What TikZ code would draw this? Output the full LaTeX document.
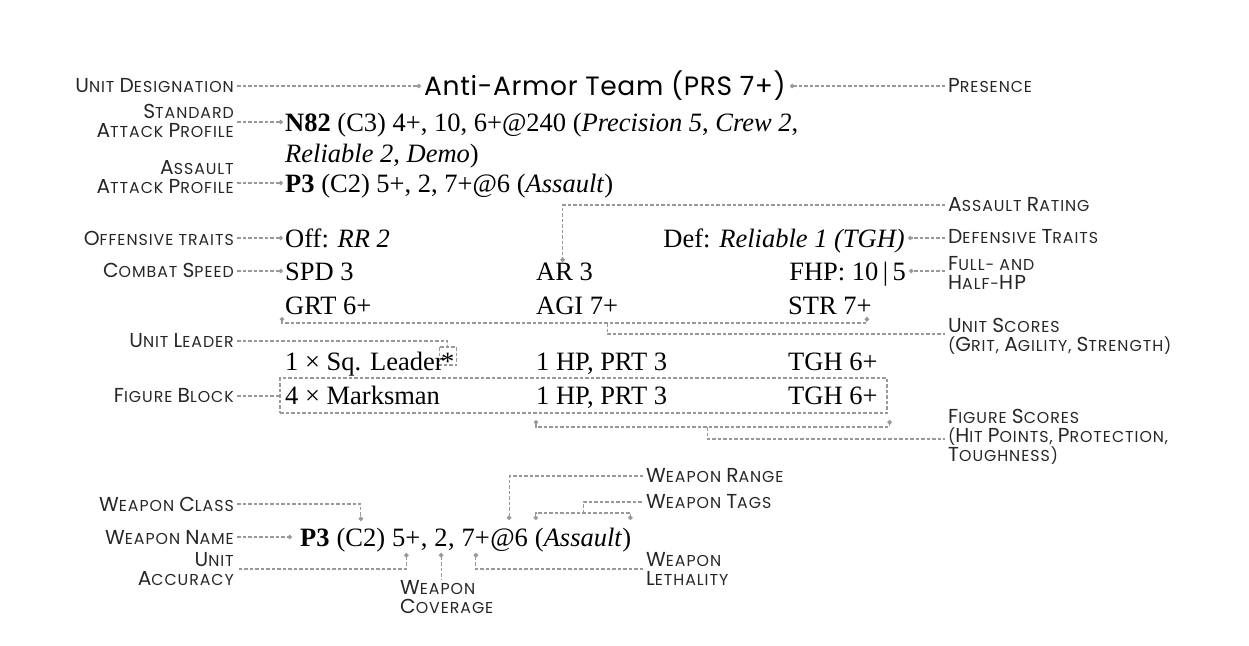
\documentclass[tikz,border=0pt]{standalone}
\usepackage{fontspec}
\setmainfont{Liberation Serif}
\newfontfamily\gothic[LetterSpace=6]{Poppins}
\newfontfamily\gothicT[LetterSpace=2.5]{Poppins}
\usetikzlibrary{arrows.meta,calc,fit}
\newcommand{\Bg}[1]{{\fontsize{20.2}{20.2}\selectfont #1}}
\tikzset{
  lab/.style={font=\gothic\fontsize{15.8}{19}\selectfont, inner ysep=0pt, inner xsep=3pt, text=black!85},
  labL/.style={lab, anchor=east, align=right},
  labR/.style={lab, anchor=west, align=left},
  dat/.style={font=\fontsize{26.5}{31}\selectfont, inner sep=0pt, anchor=base west},
  conn/.style={draw=black!40, dash pattern=on 3.5pt off 2pt, line width=1.1pt},
  dot/.style={-{Circle[length=4.5pt,width=4.5pt]}},
  tod/.style={{Circle[length=4.5pt,width=4.5pt]}-},
  dots/.style={{Circle[length=4.5pt,width=4.5pt]}-{Circle[length=4.5pt,width=4.5pt]}},
}
\begin{document}
\begin{tikzpicture}[x=1pt,y=-1pt]
\useasboundingbox (0,0) rectangle (1249,645);
% ---------- data ----------
\node[font=\gothicT\fontsize{26.5}{30}\selectfont, inner sep=0pt, anchor=base west] (title) at (424,95) {Anti-Armor Team (PRS 7+)};
\node[dat] (std) at (285,131) {\textbf{N82} (C3) 4+, 10, 6+@240 (\textit{Precision 5}, \textit{Crew 2},};
\node[dat] (stdb) at (285,162) {\textit{Reliable 2}, \textit{Demo})};
\node[dat] (asl) at (285,192) {\textbf{P3} (C2) 5+, 2, 7+@6 (\textit{Assault})};
\node[dat] (off) at (285,247) {Off: \textit{RR 2}};
\node[dat, anchor=base east] (def) at (905,247) {Def: \textit{Reliable 1 (TGH)}};
\node[dat] (spd) at (285,280) {SPD 3};
\node[dat] (ar) at (536,280) {AR 3};
\node[dat, anchor=base east] (fhp) at (906,280) {FHP: 10\,|\,5};
\node[dat] (grt) at (285,314) {GRT 6+};
\node[dat] (agi) at (536,314) {AGI 7+};
\node[dat] (str) at (788,314) {STR 7+};
\node[dat] (ldr) at (285,370) {1 × Sq. Leader};
\node[dat] (star) at ($(ldr.base east)+(-3,0)$) {*};
\node[dat] (hp1) at (536,370) {1 HP, PRT 3};
\node[dat] (tgh1) at (788,370) {TGH 6+};
\node[dat] (mk) at (285,404) {4 × Marksman};
\node[dat] (hp2) at (536,404) {1 HP, PRT 3};
\node[dat] (tgh2) at (788,404) {TGH 6+};
\coordinate (fbA) at (280,378);
\coordinate (fbB) at (887,413);
\node[fit=(fbA)(fbB), inner sep=0pt, conn] (fblock) {};
% weapon line
\node[dat] (wP) at (300,546) {\textbf{P3}};
\node[dat] (wC) at ($(wP.base east)+(6.6,0)$) {(C2)};
\node[dat] (wA) at ($(wC.base east)+(6.6,0)$) {5+};
\node[dat] (wA2) at (wA.base east) {,};
\node[dat] (wV) at ($(wA2.base east)+(6.6,0)$) {2};
\node[dat] (wV2) at (wV.base east) {,};
\node[dat] (wL) at ($(wV2.base east)+(6.6,0)$) {7+};
\node[dat] (wR) at (wL.base east) {@6};
\node[dat] (wT) at ($(wR.base east)+(6.6,0)$) {(\textit{Assault})};
% ---------- labels ----------
\node[labL] (ldesig) at (237,86) {\Bg{U}NIT \Bg{D}ESIGNATION};
\node[labL] (lstd) at (237,121) {\Bg{S}TANDARD\\\Bg{A}TTACK \Bg{P}ROFILE};
\node[labL] (lasl) at (237,177) {\Bg{A}SSAULT\\\Bg{A}TTACK \Bg{P}ROFILE};
\node[labL] (loff) at (237,238) {\Bg{O}FFENSIVE TRAITS};
\node[labL] (lspd) at (237,270) {\Bg{C}OMBAT \Bg{S}PEED};
\node[labL] (lleader) at (237,341) {\Bg{U}NIT \Bg{L}EADER};
\node[labL] (lblock) at (237,396) {\Bg{F}IGURE \Bg{B}LOCK};
\node[labL] (lclass) at (237,504) {\Bg{W}EAPON \Bg{C}LASS};
\node[labL] (lname) at (237,537) {\Bg{W}EAPON \Bg{N}AME};
\node[labL] (lacc) at (237,569) {\Bg{U}NIT\\\Bg{A}CCURACY};
\node[labR] (lpres) at (945,86) {\Bg{P}RESENCE};
\node[labR] (lar) at (945,205) {\Bg{A}SSAULT \Bg{R}ATING};
\node[labR] (ldef) at (945,237) {\Bg{D}EFENSIVE \Bg{T}RAITS};
\node[labR] (lfhp) at (945,273) {\Bg{F}ULL- AND\\\Bg{H}ALF-\Bg{HP}};
\node[labR] (lunit) at (945,336) {\Bg{U}NIT \Bg{S}CORES\\(\Bg{G}RIT, \Bg{A}GILITY, \Bg{S}TRENGTH)};
\node[labR] (lfig) at (945,437) {\Bg{F}IGURE \Bg{S}CORES\\(\Bg{H}IT \Bg{P}OINTS, \Bg{P}ROTECTION,\\\Bg{T}OUGHNESS)};
\node[labR] (lrange) at (643,476) {\Bg{W}EAPON \Bg{R}ANGE};
\node[labR] (ltags) at (643,502) {\Bg{W}EAPON \Bg{T}AGS};
\node[labR] (llet) at (643,569) {\Bg{W}EAPON\\\Bg{L}ETHALITY};
\node[lab, anchor=north west, align=left] (lcov) at (397,580) {\Bg{W}EAPON\\\Bg{C}OVERAGE};
% ---------- connectors ----------
\draw[conn,dot] (ldesig.east) -- ($(ldesig.east -| title.west)+(-3,0)$);
\draw[conn,dot] (lpres.west) -- ($(lpres.west -| title.east)+(4,0)$);
\coordinate (cstd) at ($(std.base west)+(-2,-9)$);
\draw[conn,dot] (lstd.east |- cstd) -- (cstd);
\coordinate (casl) at ($(asl.base west)+(-2,-9)$);
\draw[conn,dot] (lasl.east |- casl) -- (casl);
\coordinate (coff) at ($(off.base west)+(-2,-9)$);
\draw[conn,dot] (loff.east |- coff) -- (coff);
\coordinate (cspd) at ($(spd.base west)+(-2,-9)$);
\draw[conn,dot] (lspd.east |- cspd) -- (cspd);
\coordinate (cdef) at ($(def.base east)+(3,-9)$);
\draw[conn,dot] (ldef.west |- cdef) -- (cdef);
\coordinate (cfhp) at ($(fhp.base east)+(3,-9)$);
\draw[conn,dot] (lfhp.west |- cfhp) -- (cfhp);
\draw[conn,dot] (lar.west) -| ($(ar.base)+(-2,-18)$);
% unit scores
\coordinate (us1) at ($(grt.base west)+(-3,3)$);
\coordinate (us2) at ($(str.base east)+(-5,3)$);
\draw[conn,dots] (us1) -- ++(0,6) -| (us2);
\coordinate (um) at ($(us1)!0.556!(us2)+(0,6)$);
\draw[conn] (um) -- ++(0,11) -- (lunit.west |- {$(um)+(0,11)$});
% unit leader
\draw[conn] ($(star.base)+(-8,-23)$) rectangle ($(star.base)+(9,-5)$);
\draw[conn] (lleader.east) -| ($(star.base)+(0,-23)$);
% figure block
\draw[conn] (lblock.east) -- (lblock.east -| fblock.west);
\coordinate (fs1) at ($(hp2.base west)+(0,16)$);
\coordinate (fs2) at ($(fblock.east |- fs1)+(2,0)$);
\draw[conn,dots] (fs1) -- ++(0,7) -| (fs2);
\coordinate (fm) at ($(fs1)!0.486!(fs2)+(0,7)$);
\draw[conn] (fm) -- ++(0,12) -- (lfig.west |- {$(fm)+(0,12)$});
% weapon
\draw[conn,dot] (lclass.east) -| ($(wC.base)+(0,-25)$);
\draw[conn,dot] (lname.east) -- ($(lname.east -| wP.west)+(-8,0)$);
\draw[conn,tod] ($(wA.base)+(0,7)$) |- (lacc.east);
\coordinate (cv) at ($(wV.base)+(0,7)$);
\draw[conn,tod] (cv) -- (cv |- lcov.north);
\draw[conn,tod] ($(wL.base)+(0,7)$) |- (llet.west);
\draw[conn,dot] (lrange.west) -| ($(wR.base)+(0,-26)$);
\coordinate (t1) at ($(wT.base west)+(1,-26)$);
\coordinate (t2) at ($(wT.base east)+(-1,-26)$);
\draw[conn,dots] (t1) -- ++(0,-7) -| (t2);
\draw[conn] ($(t1)!0.5!(t2)+(0,-7)$) |- (ltags.west);
\end{tikzpicture}
\end{document}
